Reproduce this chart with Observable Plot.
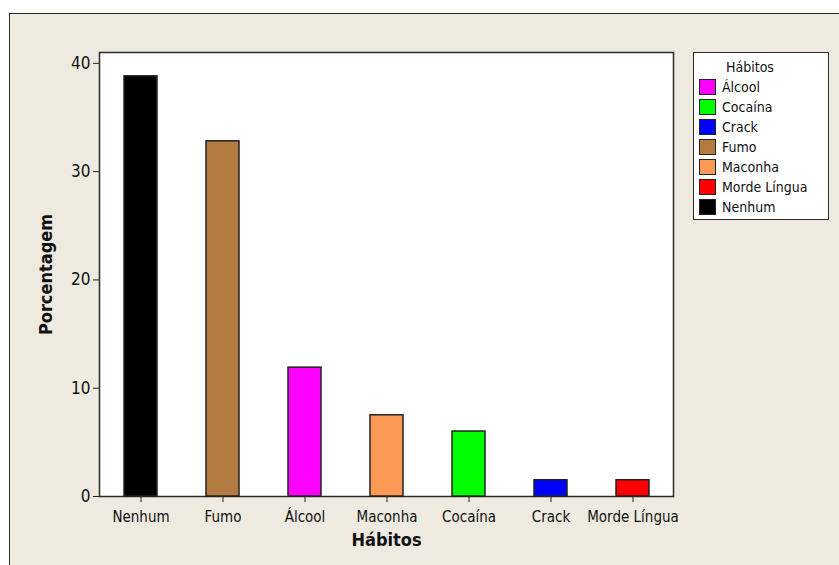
<!DOCTYPE html>
<html>
<head>
<meta charset="utf-8">
<script src="https://cdn.jsdelivr.net/npm/d3@7"></script>
<script src="https://cdn.jsdelivr.net/npm/@observablehq/plot@0.6"></script>
<style>
  html, body { margin: 0; padding: 0; background: #ffffff; overflow: hidden; }
  #wrap { position: relative; width: 839px; height: 565px; overflow: hidden; font-family: "DejaVu Sans Condensed", "DejaVu Sans", sans-serif; }
  #bg { position: absolute; left: 9px; top: 13px; width: 900px; height: 600px; background: #EEEAE0; border-left: 1.5px solid #2a2a2a; border-top: 1.5px solid #2a2a2a; }
  #chart { position: absolute; left: 0; top: 0; }
  #chart svg { background: transparent; }
  #chart svg [aria-label="x-axis label"] text, #chart svg [aria-label="y-axis label"] text,
  #chart svg g[aria-label="x-axis label"], #chart svg g[aria-label="y-axis label"] { font-weight: bold; font-size: 18px; }
  #legend { position: absolute; left: 693px; top: 52px; width: 136px; height: 168px; box-sizing: border-box; background: #fff; border: 1.5px solid #2a2a2a; font-size: 14px; color: #111; }
  #legend .title { position: absolute; left: 32px; top: 6px; }
  #legend .row { position: absolute; left: 5px; height: 18px; display: flex; align-items: center; }
  #legend .sw { width: 17px; height: 16px; box-sizing: border-box; border: 1.5px solid #222; margin-right: 6px; }
</style>
</head>
<body>
<div id="wrap">
  <div id="bg"></div>
  <div id="chart"></div>
  <div id="legend"></div>
</div>
<script>
// Bar order on the x axis
const habitos = ["Nenhum", "Fumo", "Álcool", "Maconha", "Cocaína", "Crack", "Morde Língua"];
// Percentage for each bar
const porcentagem = [38.8, 32.8, 11.9, 7.5, 6.0, 1.5, 1.5];
// Legend order and colours
const legendaHabitos = ["Álcool", "Cocaína", "Crack", "Fumo", "Maconha", "Morde Língua", "Nenhum"];
const legendaCores = ["#FF00FF", "#00FF00", "#0000FF", "#B37B40", "#FF9955", "#FF0000", "#000000"];
const yTicks = [0, 10, 20, 30, 40];

const data = habitos.map((h, i) => ({habito: h, pct: porcentagem[i]}));

const plot = Plot.plot({
  width: 839,
  height: 565,
  marginLeft: 99,
  marginRight: 166,
  marginTop: 52,
  marginBottom: 69,
  style: {fontFamily: "'DejaVu Sans Condensed', 'DejaVu Sans', sans-serif", background: "transparent", color: "#111"},
  x: {domain: habitos, paddingInner: 0.6, paddingOuter: 0.3},
  y: {domain: [0, 41]},
  color: {domain: legendaHabitos, range: legendaCores},
  marks: [
    Plot.frame({fill: "white", stroke: "#2a2a2a", strokeWidth: 1.5}),
    Plot.barY(data, {x: "habito", y: "pct", fill: "habito", stroke: "#222", strokeWidth: 1.5}),
    Plot.axisX({label: "Hábitos", labelAnchor: "center", labelArrow: "none", tickSize: 6, tickPadding: 9, fontSize: 15, labelOffset: 49, stroke: "#222"}),
    Plot.axisY({ticks: yTicks, label: "Porcentagem", labelAnchor: "center", labelArrow: "none", tickSize: 6, tickPadding: 3, fontSize: 17, labelOffset: 60, tickFormat: d => d, stroke: "#222"})
  ]
});
document.getElementById("chart").appendChild(plot);

// Legend built from the arrays
const leg = d3.select("#legend");
leg.append("div").attr("class", "title").text("Hábitos");
legendaHabitos.forEach((h, i) => {
  const row = leg.append("div").attr("class", "row").style("top", (25 + i * 20) + "px");
  row.append("div").attr("class", "sw").style("background", legendaCores[i]);
  row.append("span").text(h);
});
</script>
</body>
</html>
